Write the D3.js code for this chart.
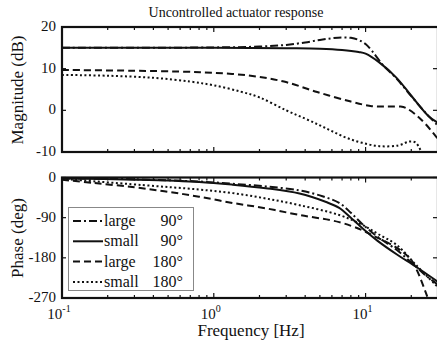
<!DOCTYPE html>
<html>
<head>
<meta charset="utf-8">
<script src="https://cdn.jsdelivr.net/npm/d3@7"></script>
<style>
  html, body { margin: 0; padding: 0; background: #fff; }
  svg { display: block; }
  svg text { font-family: "Liberation Serif", "DejaVu Serif", "Noto Serif", serif; }
</style>
</head>
<body>
<svg id="chart" width="437" height="342"></svg>
<script>
// Frequency response of the actuator, four configurations: [frequency Hz, value]
const seriesNames = ["large", "small", "large", "small"];
const seriesAngles = ["90°", "90°", "180°", "180°"];
const seriesDash = ["8,3,2,3", null, "7,4", "2,2.5"];

const magLarge90 = [[0.1,15],[0.3,15],[1,15.1],[2,15.3],[3,15.7],[4,16.3],[5,16.9],[6,17.3],[7,17.5],[8,17.4],[9,16.9],[10,15.9],[11,14.3],[13,10.9],[16,7.6],[20,3.4],[25,-0.7],[30,-3.7]];
const magSmall90 = [[0.1,15],[1,15],[3,14.9],[5,14.8],[7,14.5],[9,14],[10,13.6],[12.3,11.5],[16,7.8],[20,3.5],[26,-1.4],[30,-3]];
const magLarge180 = [[0.1,9.7],[0.3,9.5],[0.6,9.3],[1,9],[1.75,8.3],[2.9,6.9],[4.8,4.4],[8,2.1],[11,1],[14,0.9],[17,0.9],[18.6,0.5],[21.5,-1.1],[25,-3.4],[30,-6.9]];
const magSmall180 = [[0.1,8.5],[0.2,8.3],[0.4,7.8],[0.7,6.9],[1,6],[1.5,4.5],[2,3.1],[3,0],[4,-2],[5,-3.6],[6,-5],[7.5,-6.6],[9.5,-7.8],[12.3,-8.6],[16.5,-8.4],[19.4,-7.5],[21.3,-7.7],[23,-9.5],[26,-13]];

const phLarge90 = [[0.1,-2],[0.3,-4],[0.8,-9],[1.33,-14],[2.2,-20],[3.67,-29],[5.2,-42],[6.7,-57],[8,-79],[9.5,-104],[12,-133],[16,-162],[21.5,-200],[25,-220],[30,-240]];
const phSmall90 = [[0.1,-2],[0.3,-5],[0.8,-10],[1.33,-16],[2.2,-24],[3.67,-36],[5.5,-55],[6.7,-68],[8,-90],[10,-120],[12,-142],[16,-172],[21.5,-200],[30,-234]];
const phLarge180 = [[0.1,-5],[0.16,-12],[0.3,-22],[0.5,-32],[0.8,-43],[1.33,-57],[2.2,-69],[3.67,-84],[6.7,-100],[9.5,-118],[11,-129],[16,-157],[20,-185],[22,-211],[25,-259],[27,-290]];
const phSmall180 = [[0.1,-3],[0.34,-17],[0.8,-27],[1.33,-35],[2.2,-47],[3.67,-62],[6.7,-84],[9.5,-106],[12,-126],[16,-151],[21.5,-196],[30,-246]];

const magSeries = [magLarge90, magSmall90, magLarge180, magSmall180];
const phaseSeries = [phLarge90, phSmall90, phLarge180, phSmall180];

const magTicks = [-10, 0, 10, 20];
const phaseTicks = [-270, -180, -90, 0];
const decadeTicks = [0.1, 1, 10];
const decadeExponents = ["-1", "0", "1"];

const titleText = "Uncontrolled actuator response";
const xLabel = "Frequency [Hz]";
const magLabel = "Magnitude (dB)";
const phaseLabel = "Phase (deg)";

const svg = d3.select("#chart");
const ink = "#111";

const x = d3.scaleLog().domain([0.1, 30]).range([62, 438]);
const yMag = d3.scaleLinear().domain([-10, 20]).range([152, 27]);
const yPh = d3.scaleLinear().domain([-270, 0]).range([298, 177.5]);

const minorTicks = [];
for (const base of [0.1, 1, 10]) {
  for (let k = 2; k <= 9; k++) {
    const v = base * k;
    if (v <= 30) minorTicks.push(v);
  }
}

function panel(y, ticks, series, id, label, labelY) {
  const [top, bottom] = [y.range()[1], y.range()[0]];
  const left = x.range()[0], right = x.range()[1];
  const g = svg.append("g");

  g.append("clipPath").attr("id", id)
    .append("rect").attr("x", left).attr("y", top).attr("width", right - left).attr("height", bottom - top);

  // x ticks, inside, top and bottom
  const tg = g.append("g").attr("stroke", ink).attr("stroke-width", 1.2);
  decadeTicks.forEach(v => {
    tg.append("line").attr("x1", x(v)).attr("x2", x(v)).attr("y1", bottom).attr("y2", bottom - 5);
    tg.append("line").attr("x1", x(v)).attr("x2", x(v)).attr("y1", top).attr("y2", top + 5);
  });
  minorTicks.forEach(v => {
    tg.append("line").attr("x1", x(v)).attr("x2", x(v)).attr("y1", bottom).attr("y2", bottom - 3);
    tg.append("line").attr("x1", x(v)).attr("x2", x(v)).attr("y1", top).attr("y2", top + 3);
  });
  // y ticks, inside, left and right
  ticks.forEach(v => {
    tg.append("line").attr("x1", left).attr("x2", left + 4).attr("y1", y(v)).attr("y2", y(v));
    tg.append("line").attr("x1", right).attr("x2", right - 5).attr("y1", y(v)).attr("y2", y(v));
  });

  // y tick labels
  g.append("g").selectAll("text").data(ticks).join("text")
    .attr("x", 56).attr("y", d => y(d) + 4)
    .attr("text-anchor", "end").attr("font-size", 15).attr("fill", ink)
    .text(d => d);

  // curves
  const line = d3.line().x(d => x(d[0])).y(d => y(d[1])).curve(d3.curveCatmullRom.alpha(0.5));
  g.append("g").attr("clip-path", `url(#${id})`)
    .selectAll("path").data(series).join("path")
    .attr("d", line)
    .attr("fill", "none")
    .attr("stroke", ink)
    .attr("stroke-width", 2)
    .attr("stroke-dasharray", (d, i) => seriesDash[i]);

  // frame
  g.append("rect").attr("x", left).attr("y", top).attr("width", right - left).attr("height", bottom - top)
    .attr("fill", "none").attr("stroke", ink).attr("stroke-width", 2.2);

  // y axis title
  g.append("text")
    .attr("transform", `translate(23,${labelY}) rotate(-90)`)
    .attr("text-anchor", "middle").attr("font-size", 17).attr("fill", ink)
    .text(label);
  return g;
}

panel(yMag, magTicks, magSeries, "clipMag", magLabel, 90);
panel(yPh, phaseTicks, phaseSeries, "clipPh", phaseLabel, 238);

// x tick labels 10^n
const xl = svg.append("g");
decadeTicks.forEach((v, i) => {
  const t = xl.append("text").attr("x", x(v) - 3).attr("y", 319).attr("text-anchor", "middle")
    .attr("font-size", 15).attr("fill", ink);
  t.append("tspan").text("10");
  t.append("tspan").attr("dy", -7).attr("font-size", 10).text(decadeExponents[i]);
});

svg.append("text").attr("x", 251).attr("y", 336).attr("text-anchor", "middle")
  .attr("font-size", 17).attr("fill", ink).text(xLabel);
svg.append("text").attr("x", 236).attr("y", 17).attr("text-anchor", "middle")
  .attr("font-size", 14).attr("fill", ink).text(titleText);

// legend
const lg = svg.append("g");
lg.append("rect").attr("x", 68.5).attr("y", 207.5).attr("width", 125).attr("height", 83)
  .attr("fill", "#fff").attr("stroke", "#888").attr("stroke-width", 1);
seriesNames.forEach((name, i) => {
  const cy = 221 + i * 20.3;
  lg.append("line").attr("x1", 73).attr("x2", 103).attr("y1", cy).attr("y2", cy)
    .attr("stroke", ink).attr("stroke-width", 2).attr("stroke-dasharray", seriesDash[i]);
  lg.append("text").attr("x", 104).attr("y", cy + 5).attr("font-size", 16).attr("fill", ink).text(name);
  lg.append("text").attr("x", 183).attr("y", cy + 5).attr("font-size", 16).attr("fill", ink)
    .attr("text-anchor", "end").text(seriesAngles[i]);
});
</script>
</body>
</html>
